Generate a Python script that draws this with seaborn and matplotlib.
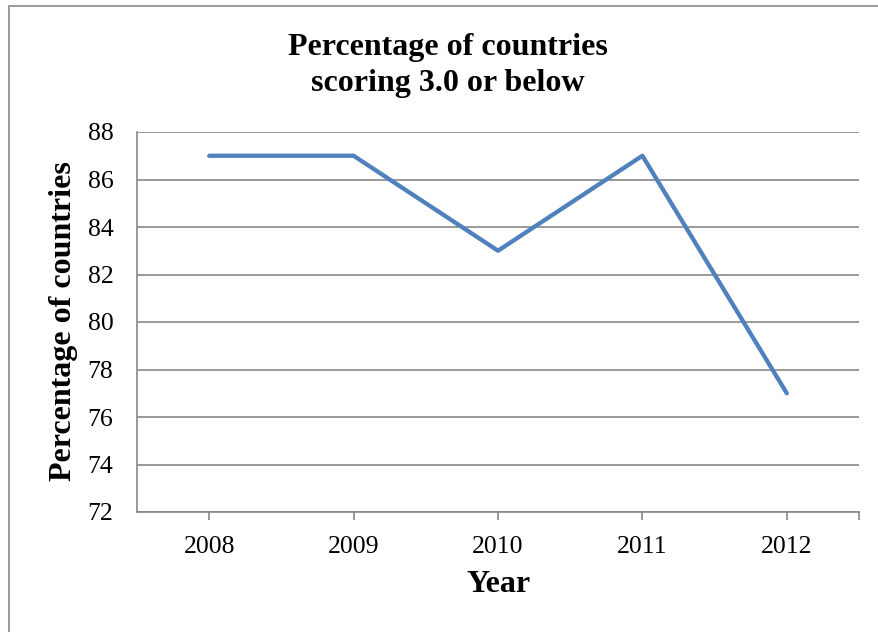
import pandas as pd
import matplotlib.pyplot as plt
import seaborn as sns
from matplotlib.patches import Rectangle

years = ["2008", "2009", "2010", "2011", "2012"]
pct = [87, 87, 83, 87, 77]
y_ticks = [72, 74, 76, 78, 80, 82, 84, 86, 88]

df = pd.DataFrame({"Year": years, "Percentage": pct})

sns.set_style("white")
plt.rcParams['font.family'] = ['Liberation Serif', 'DejaVu Serif']
plt.rcParams['text.color'] = 'black'
plt.rcParams['xtick.labelcolor'] = 'black'
plt.rcParams['ytick.labelcolor'] = 'black'

grey = "#878787"
fig = plt.figure(figsize=(8.79, 6.32), dpi=100)
ax = fig.add_axes([137/879, 1-512/632, (859-137)/879, (512-132)/632])

sns.lineplot(data=df, x="Year", y="Percentage", color="#4F81BD", linewidth=3.1, ax=ax)

ax.set_xlim(-0.5, len(years) - 0.5)
ax.set_ylim(y_ticks[0], y_ticks[-1])
ax.set_yticks(y_ticks)
ax.set_xticks(range(len(years)))
ax.set_xticklabels(years)
ax.set_xticks([len(years) - 0.5], minor=True)
ax.grid(axis="y", color=grey, linewidth=1.2)
ax.set_axisbelow(True)
for s in ["top", "right"]:
    ax.spines[s].set_visible(False)
for s in ["left", "bottom"]:
    ax.spines[s].set_color(grey)
    ax.spines[s].set_linewidth(1.2)
ax.tick_params(axis="x", which="both", direction="out", length=6, width=1.2, color=grey,
               labelsize=18.5, pad=11, bottom=True)
ax.tick_params(axis="y", length=0, labelsize=18.5, pad=17)
ax.set_xlabel("")
ax.set_ylabel("")

fig.text(448/879, 1-48/632, "Percentage of countries", ha="center", va="center",
         fontsize=23, fontweight="bold")
fig.text(448/879, 1-83/632, "scoring 3.0 or below", ha="center", va="center",
         fontsize=23, fontweight="bold")
fig.text(64/879, 1-321/632, "Percentage of countries", rotation=90, ha="center", va="center",
         fontsize=23, fontweight="bold")
fig.text(499/879, 1-585/632, "Year", ha="center", va="center", fontsize=23, fontweight="bold")

fig.patches.append(Rectangle((9/879, -0.1), 1.0, 1.1 - 6/632, transform=fig.transFigure,
                             fill=False, edgecolor=grey, linewidth=1.2))

fig.savefig("out.png", dpi=100)
